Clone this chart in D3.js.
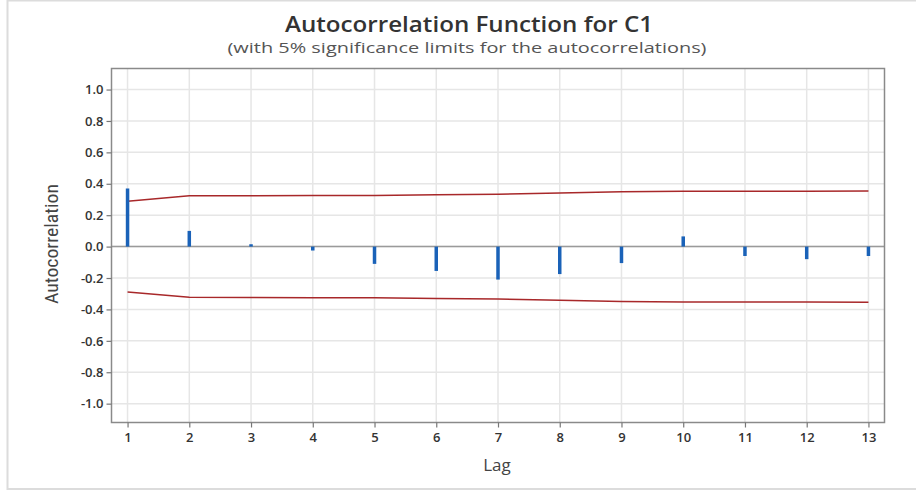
<!DOCTYPE html>
<html><head><meta charset="utf-8">
<script src="https://cdn.jsdelivr.net/npm/d3@7"></script>
<style>
html,body{margin:0;padding:0;background:#fff;}
svg{display:block;}
</style></head>
<body>
<svg id="chart" width="916" height="493"></svg>
<script>
const lags = [1,2,3,4,5,6,7,8,9,10,11,12,13];
const acf = [0.37,0.10,0.015,-0.025,-0.11,-0.155,-0.21,-0.175,-0.105,0.065,-0.06,-0.08,-0.06];
const upperLimit = [0.289,0.323,0.324,0.325,0.325,0.330,0.333,0.342,0.350,0.352,0.353,0.353,0.354];
const lowerLimit = upperLimit.map(v => -v);
const yTicks = [-1.0,-0.8,-0.6,-0.4,-0.2,0.0,0.2,0.4,0.6,0.8,1.0];
const titleText = "Autocorrelation Function for C1";
const subtitleText = "(with 5% significance limits for the autocorrelations)";
const xLabel = "Lag";
const yLabel = "Autocorrelation";

const svg = d3.select("#chart");
const font = "'Segoe UI','Open Sans','Noto Sans',sans-serif";

// outer frame
svg.append("rect").attr("x",7.5).attr("y",0.5).attr("width",930).attr("height",488.5)
  .attr("fill","#fff").attr("stroke","#dcdcdc").attr("stroke-width",2);

const L=111.5, R=884.5, T=68.5, B=422.5;
const x = d3.scaleLinear().domain([0.74,13.26]).range([L,R]);
const y = d3.scaleLinear().domain([-1.12,1.134]).range([B,T]);

const g = svg.append("g");
// grid
g.selectAll("line.hg").data(yTicks).join("line").attr("class","hg")
  .attr("x1",L).attr("x2",R).attr("y1",d=>y(d)).attr("y2",d=>y(d))
  .attr("stroke","#e6e6e6").attr("stroke-width",1.5);
g.selectAll("line.vg").data(lags).join("line").attr("class","vg")
  .attr("y1",T).attr("y2",B).attr("x1",d=>x(d)).attr("x2",d=>x(d))
  .attr("stroke","#e6e6e6").attr("stroke-width",1.5);
// zero line
g.append("line").attr("x1",L).attr("x2",R).attr("y1",y(0)).attr("y2",y(0))
  .attr("stroke","#9a9a9a").attr("stroke-width",1.5);

// limits
const line = d3.line().x((d,i)=>x(lags[i])).y(d=>y(d));
g.append("path").datum(upperLimit).attr("d",line).attr("fill","none")
  .attr("stroke","#a8282a").attr("stroke-width",1.5);
g.append("path").datum(lowerLimit).attr("d",line).attr("fill","none")
  .attr("stroke","#a8282a").attr("stroke-width",1.5);

// bars
g.selectAll("line.bar").data(acf).join("line").attr("class","bar")
  .attr("x1",(d,i)=>x(lags[i])).attr("x2",(d,i)=>x(lags[i]))
  .attr("y1",y(0)).attr("y2",d=>y(d))
  .attr("stroke","#1a62b8").attr("stroke-width",3.5);

// frame
svg.append("rect").attr("x",L).attr("y",T).attr("width",R-L).attr("height",B-T)
  .attr("fill","none").attr("stroke","#8a8a8a").attr("stroke-width",1.5);

// axes
const fmt = v => (v<0?"-":"") + Math.abs(v).toFixed(1);
const yAxis = svg.append("g").attr("transform",`translate(${L},0)`)
  .call(d3.axisLeft(y).tickValues(yTicks).tickFormat(fmt).tickSize(5).tickPadding(3));
const xAxis = svg.append("g").attr("transform",`translate(0,${B})`)
  .call(d3.axisBottom(x).tickValues(lags).tickFormat(d3.format("d")).tickSize(5).tickPadding(5));
[yAxis,xAxis].forEach(a=>{
  a.select(".domain").remove();
  a.selectAll(".tick line").attr("stroke","#777").attr("stroke-width",1.2);
  a.selectAll(".tick text").attr("fill","#333").style("font-family",font)
    .style("font-size","13px").style("font-weight","600");
});

// titles
svg.append("text").attr("x",469).attr("y",32).attr("text-anchor","middle")
  .style("font-family",font).style("font-size","21px").style("font-weight","600")
  .attr("textLength",368).attr("lengthAdjust","spacingAndGlyphs")
  .attr("fill","#333").text(titleText);
svg.append("text").attr("x",467).attr("y",53).attr("text-anchor","middle")
  .style("font-family",font).style("font-size","15px")
  .attr("textLength",479).attr("lengthAdjust","spacingAndGlyphs")
  .attr("fill","#555").text(subtitleText);
svg.append("text").attr("x",497).attr("y",471).attr("text-anchor","middle")
  .style("font-family",font).style("font-size","17px")
  .attr("fill","#444").text(xLabel);
svg.append("text").attr("transform","translate(58,244) rotate(-90)").attr("text-anchor","middle")
  .style("font-family","'Liberation Sans Narrow','Roboto Condensed',sans-serif").style("font-size","18px")
  .attr("textLength",120).attr("lengthAdjust","spacingAndGlyphs")
  .attr("fill","#444").text(yLabel);
</script>
</body></html>
